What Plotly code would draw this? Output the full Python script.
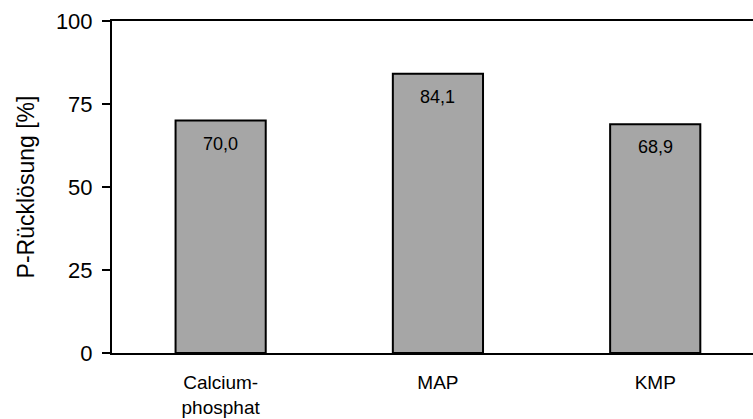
import plotly.graph_objects as go

# P-Rücklösung je Fällprodukt
categories = ["Calcium-<br>phosphat", "MAP", "KMP"]
values = [70.0, 84.1, 68.9]
value_labels = ["70,0", "84,1", "68,9"]
y_ticks = [0, 25, 50, 75, 100]

FONT = "Liberation Sans, Arial, sans-serif"

fig = go.Figure(
    go.Bar(
        x=categories,
        y=values,
        width=0.415,
        marker=dict(color="#a6a6a6", line=dict(color="black", width=2)),
        hoverinfo="skip",
    )
)

# value labels inside the bars, just below the top edge
for cat, val, lab in zip(categories, values, value_labels):
    fig.add_annotation(
        x=cat, y=val, text=lab, showarrow=False,
        yanchor="middle", yshift=-23,
        font=dict(family=FONT, size=18, color="black"),
    )

fig.update_layout(
    width=753, height=419,
    margin=dict(l=112, r=0, t=21, b=66),
    paper_bgcolor="white", plot_bgcolor="white",
    showlegend=False,
    font=dict(family=FONT, color="black"),
)

fig.update_xaxes(
    type="category",
    range=[-0.5, 2.45],
    showline=True, linecolor="black", linewidth=2, mirror=True,
    ticks="", showgrid=False,
    ticklabelstandoff=11,
    tickfont=dict(family=FONT, size=19),
)

fig.update_yaxes(
    range=[0, 100],
    tickvals=y_ticks,
    showline=True, linecolor="black", linewidth=2,
    ticks="outside", ticklen=8, tickwidth=1.5, tickcolor="black",
    ticklabelstandoff=5,
    showgrid=False, zeroline=False,
    tickfont=dict(family=FONT, size=22),
    title=dict(text="P-Rücklösung [%]", font=dict(family=FONT, size=23), standoff=15),
)

fig.write_html("out.html")
